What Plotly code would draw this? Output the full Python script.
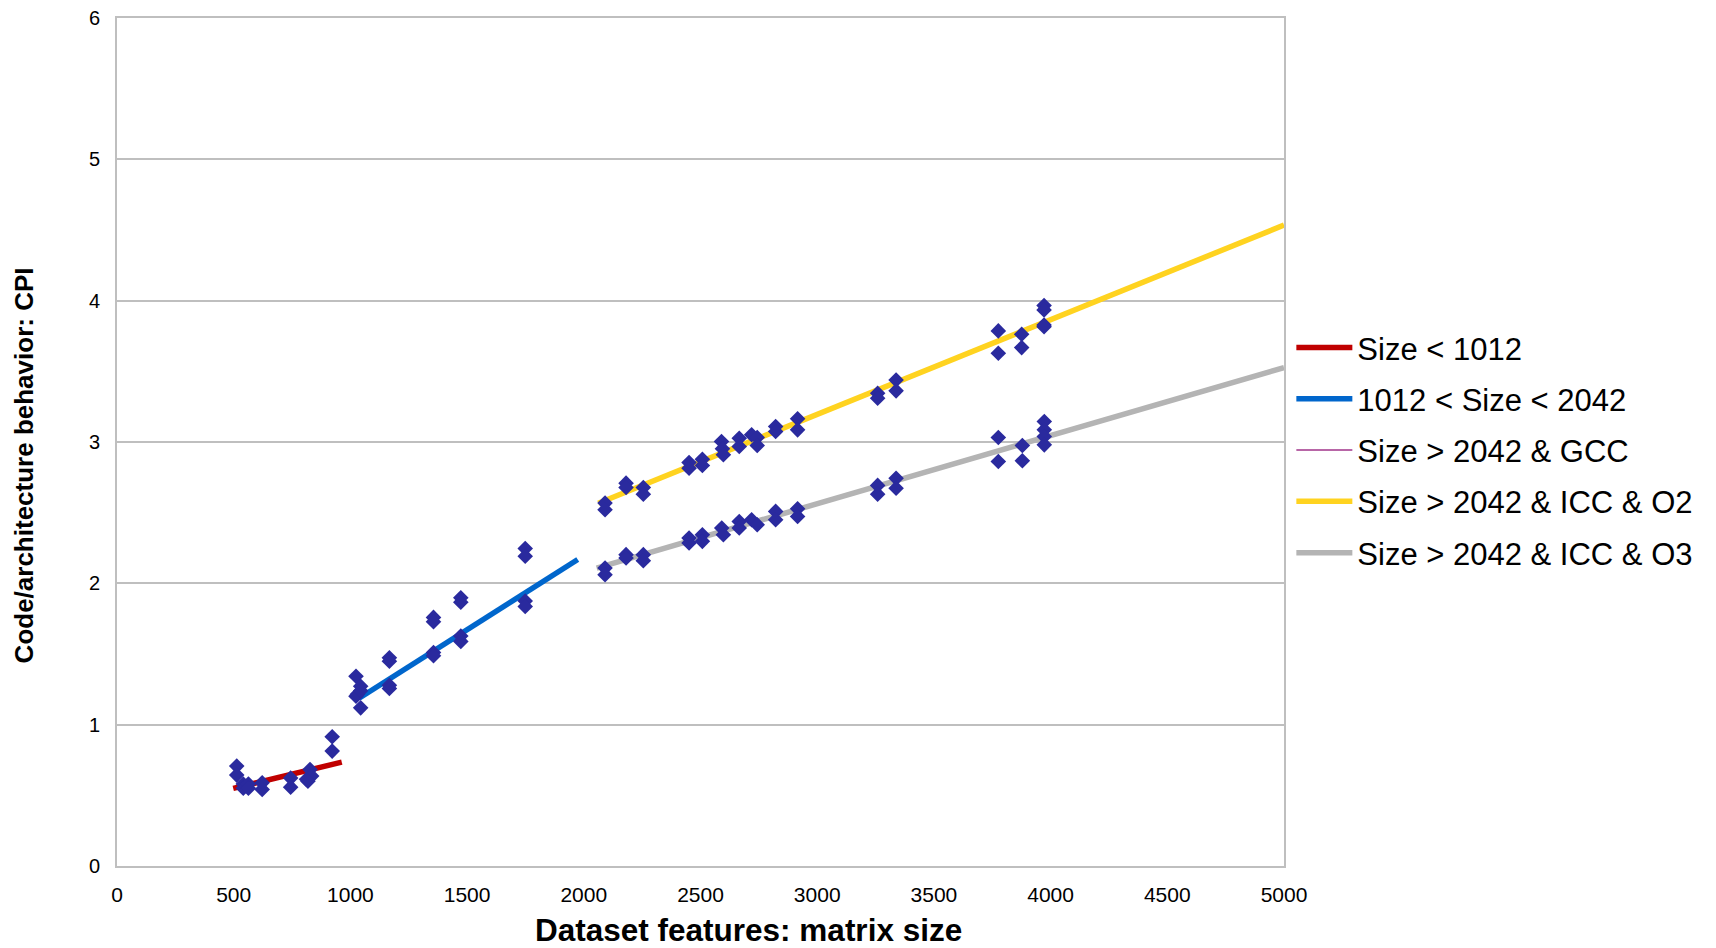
import plotly.graph_objects as go

# ---------------- data ----------------
# Size < 1012
small_x = [513, 513, 541, 541, 563, 563, 622, 622, 744, 744, 812, 827, 834, 818, 922, 922]
small_y = [0.707, 0.643, 0.58, 0.55, 0.58, 0.55, 0.589, 0.542, 0.622, 0.558, 0.613, 0.683, 0.636, 0.60, 0.914, 0.813]

# 1012 < Size < 2042
mid_x = [1024, 1024, 1030, 1044, 1044, 1044, 1167, 1167, 1167, 1167,
         1356, 1356, 1356, 1356, 1473, 1473, 1473, 1473, 1749, 1749, 1749, 1749]
mid_y = [1.343, 1.201, 1.215, 1.272, 1.24, 1.119, 1.473, 1.449, 1.279, 1.256,
         1.759, 1.728, 1.511, 1.488, 1.898, 1.867, 1.627, 1.589, 2.246, 2.192, 1.875, 1.836]

# Size > 2042 & ICC & O2
o2_x = [2091, 2091, 2181, 2181, 2255, 2255, 2451, 2451, 2508, 2508, 2590, 2594, 2598,
        2666, 2666, 2719, 2743, 2743, 2822, 2822, 2916, 2916, 3259, 3259, 3338, 3338,
        3776, 3776, 3876, 3876, 3972, 3972, 3972, 3972]
o2_y = [2.568, 2.521, 2.709, 2.678, 2.678, 2.631, 2.855, 2.815, 2.878, 2.834, 3.004, 2.952, 2.910,
        3.027, 2.968, 3.051, 3.032, 2.975, 3.110, 3.074, 3.164, 3.086, 3.345, 3.310, 3.439, 3.362,
        3.786, 3.628, 3.762, 3.668, 3.965, 3.934, 3.828, 3.816]

# Size > 2042 & ICC & O3
o3_x = [2091, 2091, 2181, 2181, 2255, 2255, 2451, 2451, 2508, 2508, 2591, 2598,
        2666, 2666, 2719, 2743, 2822, 2822, 2916, 2916, 3259, 3259, 3338, 3338,
        3776, 3776, 3879, 3879, 3973, 3973, 3973, 3973]
o3_y = [2.108, 2.061, 2.203, 2.179, 2.203, 2.160, 2.320, 2.285, 2.344, 2.297, 2.391, 2.344,
        2.438, 2.391, 2.450, 2.415, 2.509, 2.450, 2.528, 2.473, 2.693, 2.631, 2.744, 2.673,
        3.032, 2.862, 2.975, 2.867, 3.145, 3.086, 3.039, 2.980]

# linear trend lines (start / end)
trend_names = ["Size < 1012", "1012 < Size < 2042", "Size > 2042 & GCC",
               "Size > 2042 & ICC & O2", "Size > 2042 & ICC & O3"]
trend_x = [[498, 963], [1037, 1974], [None], [2062, 5000], [2055, 5000]]
trend_y = [[0.549, 0.735], [1.187, 2.169], [None], [2.567, 4.535], [2.108, 3.527]]

x_ticks = [0, 500, 1000, 1500, 2000, 2500, 3000, 3500, 4000, 4500, 5000]
y_ticks = [0, 1, 2, 3, 4, 5, 6]

x_title = "Dataset features: matrix size"
y_title = "Code/architecture behavior: CPI"

# ---------------- styles ----------------
trend_colors = ["#C00000", "#0066CC", "#A0338A", "#FFD320", "#B4B4B4"]
trend_widths = [5.5, 5.5, 1.5, 5.5, 5.5]
marker_color = "#2A2A9E"
FONT = "Liberation Sans, Arial, sans-serif"
GRID = "#BFBFBF"

fig = go.Figure()

for i, name in enumerate(trend_names):
    fig.add_trace(go.Scatter(
        x=trend_x[i], y=trend_y[i], mode="lines", name=name,
        legendgroup=f"g{i}",
        line=dict(color=trend_colors[i], width=trend_widths[i]),
        hoverinfo="skip",
    ))

for px, py in [(small_x, small_y), (mid_x, mid_y), (o2_x, o2_y), (o3_x, o3_y)]:
    fig.add_trace(go.Scatter(
        x=px, y=py, mode="markers", showlegend=False,
        marker=dict(symbol="diamond", size=12, color=marker_color, line=dict(width=0)),
    ))

fig.add_annotation(
    text=f"<b>{x_title}</b>", xref="paper", yref="paper",
    x=0.5412, y=-0.0755, xanchor="center", yanchor="middle",
    showarrow=False, font=dict(size=31.5, family=FONT, color="black"),
)
fig.add_annotation(
    text=f"<b>{y_title}</b>", xref="paper", yref="paper", textangle=-90,
    x=-0.0797, y=0.4724, xanchor="center", yanchor="middle",
    showarrow=False, font=dict(size=26, family=FONT, color="black"),
)

fig.update_layout(
    width=1716, height=948,
    paper_bgcolor="white", plot_bgcolor="white",
    margin=dict(l=109, r=440, t=10, b=90),
    font=dict(family=FONT, color="black"),
    showlegend=True,
    legend=dict(
        x=1.0063, xanchor="left", y=0.4902, yanchor="middle",
        font=dict(size=31, family=FONT, color="black"),
        traceorder="grouped", tracegroupgap=8, itemwidth=56,
        bgcolor="rgba(0,0,0,0)",
    ),
    xaxis=dict(
        range=[0, 5000], tickvals=x_ticks, showgrid=False, zeroline=False,
        showline=True, mirror=True, linecolor=GRID, linewidth=2,
        ticks="", tickfont=dict(size=21), ticklabelstandoff=9, automargin=False,
        ticklabeloverflow="allow",
    ),
    yaxis=dict(
        range=[0, 6], tickvals=y_ticks, showgrid=True, gridcolor=GRID, gridwidth=1.5,
        zeroline=False, showline=True, mirror=True, linecolor=GRID, linewidth=2,
        ticks="", tickfont=dict(size=20), ticklabelstandoff=11, automargin=False,
        ticklabeloverflow="allow",
    ),
)

fig.write_html("out.html")
